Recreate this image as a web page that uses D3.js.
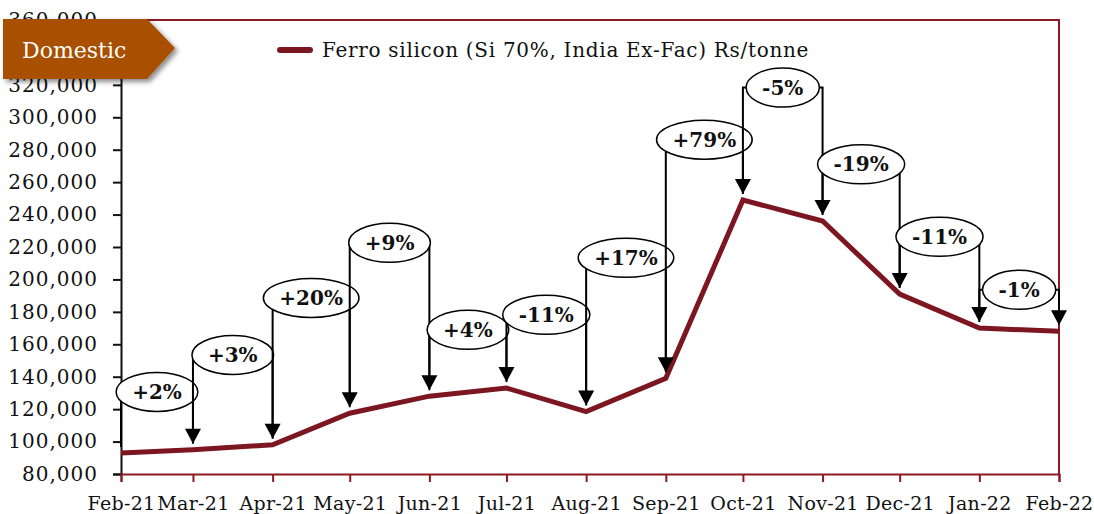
<!DOCTYPE html>
<html>
<head>
<meta charset="utf-8">
<script src="https://cdn.jsdelivr.net/npm/d3@7"></script>
<style>
  body { margin: 0; background: #fff; }
  svg { display: block; font-family: "DejaVu Serif", Georgia, serif; }
</style>
</head>
<body>
<svg width="1094" height="514"></svg>
<script>
// monthly ferro silicon price, Rs/tonne
var months = ["2021-02", "2021-03", "2021-04", "2021-05", "2021-06", "2021-07", "2021-08",
    "2021-09", "2021-10", "2021-11", "2021-12", "2022-01", "2022-02"];
var prices = [93000, 95000, 98000, 117500, 128000, 133000, 118500,
    139000, 249000, 236000, 191000, 170000, 168000];
// month on month change, as printed in the callouts
var changes = ["+2%", "+3%", "+20%", "+9%", "+4%", "-11%", "+17%", "+79%", "-5%", "-19%", "-11%", "-1%"];
// height (in Rs/tonne) where each callout bubble sits
var calloutAt = [130600, 153400, 188600, 222600, 168900, 178200, 213300, 286200, 318300, 271000, 226300, 193600];
var yTicks = d3.range(80000, 360001, 20000);

var parseMonth = d3.timeParse("%Y-%m");
var dates = months.map(parseMonth);

var svg = d3.select("svg"),
    frame = "#8b1a22",
    lineColor = "#7c1620";

var x = d3.scaleTime()
    .domain([dates[0], dates[dates.length - 1]])
    .range([121, 1059]);

var y = d3.scaleLinear()
    .domain([80000, 360000])
    .range([474, 20]);

var defs = svg.append("defs");
defs.append("filter")
    .attr("id", "shadow")
    .attr("x", "-10%").attr("y", "-10%")
    .attr("width", "130%").attr("height", "140%")
    .append("feDropShadow")
    .attr("dx", 3).attr("dy", 3)
    .attr("stdDeviation", 2.5)
    .attr("flood-color", "#000")
    .attr("flood-opacity", 0.45);

// frame top and right
svg.append("path")
    .attr("d", "M121,20H1059V474")
    .attr("fill", "none")
    .attr("stroke", frame)
    .attr("stroke-width", 2);

// y axis
var yAxis = svg.append("g")
    .attr("transform", "translate(121,0)")
    .call(d3.axisLeft(y).tickValues(yTicks).tickSize(8).tickPadding(15).tickFormat(d3.format(",")));
yAxis.select(".domain").attr("stroke", "#111").attr("stroke-width", 2);
yAxis.selectAll(".tick line").attr("stroke", "#111").attr("stroke-width", 2);
yAxis.selectAll("text")
    .style("font-family", "DejaVu Serif")
    .style("font-size", "20px")
    .style("letter-spacing", "1px")
    .attr("fill", "#111");

// x axis
var xAxis = svg.append("g")
    .attr("transform", "translate(0,474)")
    .call(d3.axisBottom(x).tickValues(dates).tickSize(8).tickPadding(15).tickFormat(d3.timeFormat("%b-%y")));
xAxis.select(".domain").attr("stroke", frame).attr("stroke-width", 2);
xAxis.selectAll(".tick line").attr("stroke", frame).attr("stroke-width", 2);
xAxis.selectAll("text")
    .style("font-family", "DejaVu Serif")
    .style("font-size", "19px")
    .style("letter-spacing", "0.3px")
    .attr("fill", "#111");

// price line
var line = d3.line()
    .x(function (d, i) { return x(dates[i]); })
    .y(function (d) { return y(d); });

svg.append("path")
    .datum(prices)
    .attr("d", line)
    .attr("fill", "none")
    .attr("stroke", lineColor)
    .attr("stroke-width", 5)
    .attr("stroke-linejoin", "miter");

// callouts: bracket from one month to the next, arrow at the next month
var callouts = svg.append("g").attr("class", "callouts");
changes.forEach(function (label, i) {
    var x0 = x(dates[i]),
        x1 = x(dates[i + 1]),
        lv = y(calloutAt[i]),
        tip = y(prices[i + 1]) - 6,
        start = y(prices[i]) - 6,
        head = 15;

    var g = callouts.append("g");
    g.append("path")
        .attr("d", "M" + x0 + "," + start + "V" + lv + "H" + x1 + "V" + (tip - head + 1))
        .attr("fill", "none")
        .attr("stroke", "#000")
        .attr("stroke-width", 2);
    g.append("path")
        .attr("d", "M" + (x1 - 8) + "," + (tip - head) + "L" + (x1 + 8) + "," + (tip - head) + "L" + x1 + "," + tip + "Z")
        .attr("fill", "#000");

    var cx = (x0 + x1) / 2;
    var ell = g.append("ellipse")
        .attr("cx", cx)
        .attr("cy", lv)
        .attr("ry", 19.5)
        .attr("fill", "#fff")
        .attr("stroke", "#000")
        .attr("stroke-width", 1.5);
    var t = g.append("text")
        .attr("x", cx)
        .attr("y", lv + 7)
        .attr("text-anchor", "middle")
        .style("font-size", "20px")
        .style("font-weight", "bold")
        .attr("fill", "#111")
        .text(label);
    ell.attr("rx", t.node().getComputedTextLength() / 2 + 16);
});

// legend
svg.append("line")
    .attr("x1", 280).attr("x2", 310)
    .attr("y1", 50).attr("y2", 50)
    .attr("stroke", lineColor)
    .attr("stroke-width", 6)
    .attr("stroke-linecap", "round");
svg.append("text")
    .attr("x", 322)
    .attr("y", 57)
    .style("font-size", "20px")
    .style("letter-spacing", "0.7px")
    .attr("fill", "#111")
    .text("Ferro silicon (Si 70%, India Ex-Fac) Rs/tonne");

// "Domestic" badge
svg.append("path")
    .attr("d", "M3,19H147L175,48L147,79H3Z")
    .attr("fill", "#a84f00")
    .attr("filter", "url(#shadow)");
svg.append("text")
    .attr("x", 22)
    .attr("y", 58)
    .style("font-size", "22px")
    .attr("fill", "#fff")
    .text("Domestic");
</script>
</body>
</html>
